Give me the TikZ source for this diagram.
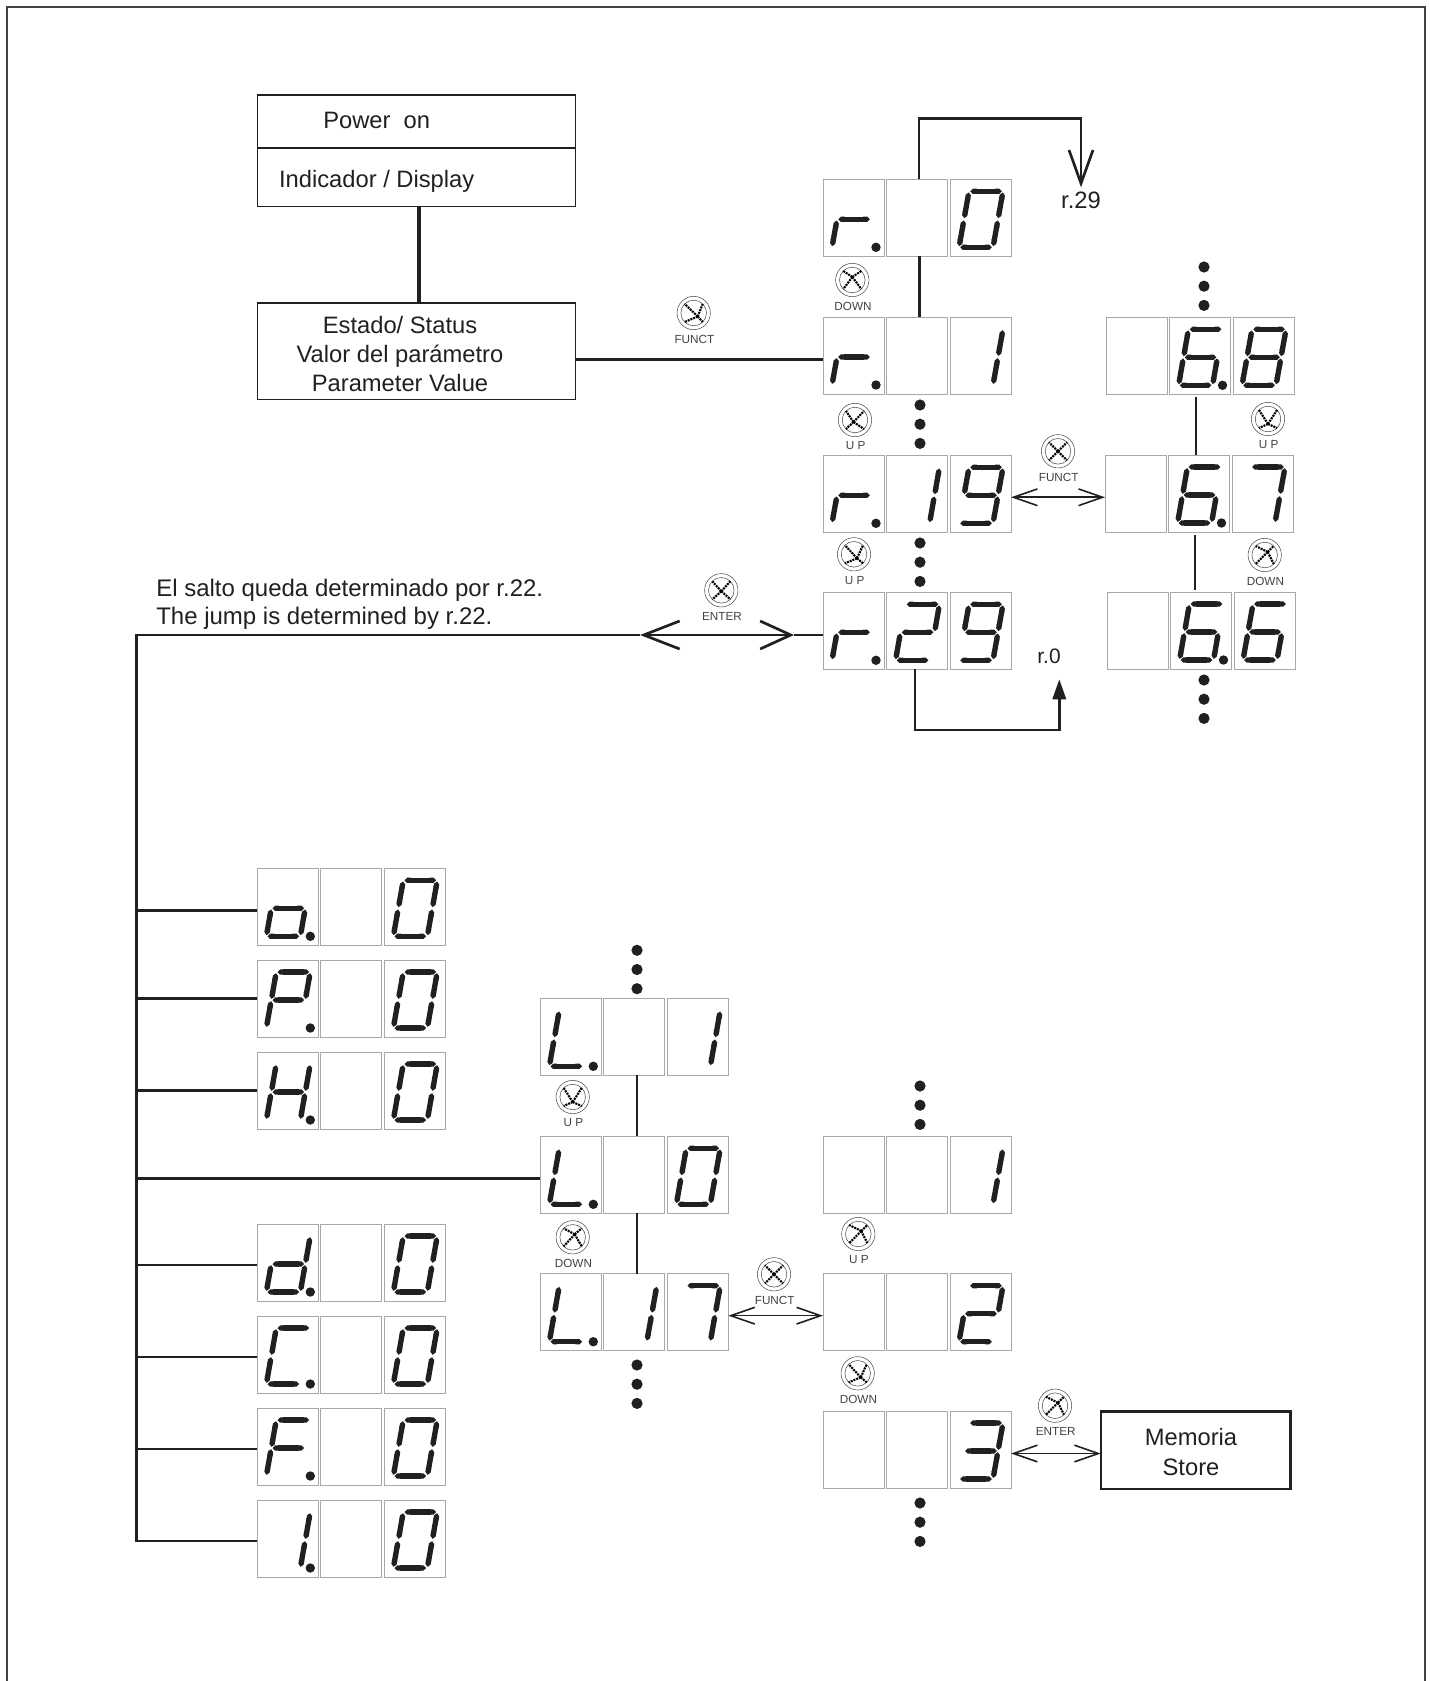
\documentclass[tikz,border=0pt]{standalone}
\usepackage{fontspec}
\setmainfont{Liberation Sans}
\usetikzlibrary{arrows.meta,calc}

\definecolor{ink}{HTML}{231F20}
\definecolor{cellgray}{HTML}{A8A8A8}

\def\sga{\draw[segm] (19,12) -- (53,12);}
\def\sgb{\draw[segm] (53,12) -- (48,40);}
\def\sgc{\draw[segm] (48,40) -- (43,68);}
\def\sgd{\draw[segm] (43,68) -- (9,68);}
\def\sge{\draw[segm] (9,68) -- (14,40);}
\def\sgf{\draw[segm] (14,40) -- (19,12);}
\def\sgg{\draw[segm] (14,40) -- (48,40);}
\def\sgp{\fill[ink] (53,68) circle (4.7);}

\newcommand{\cellsegs}[2]{
  \begin{scope}[shift={(#1.north west)}]
    \foreach \s in {#2} {\csname sg\s\endcsname}
  \end{scope}
}
\newcommand{\display}[6]{
  \node[cell,anchor=north west] (#1-1) at (#2,#3) {};
  \node[cell,anchor=north west] (#1-2) at (#2+63.5,#3) {};
  \node[cell,anchor=north west] (#1-3) at (#2+127,#3) {};
  \cellsegs{#1-1}{#4}
  \cellsegs{#1-2}{#5}
  \cellsegs{#1-3}{#6}
}
\newcommand{\keyicon}[6]{
  \node[keyring] (#1) at (#2,#3) {};
  \draw[keyinner] (#1.center) circle (12.8);
  \foreach \a/\b in {-9/-9,9/-9,-9/9,9/9}
    \draw[keyarm] ($(#1.center)+(#4,#5)$) -- ($(#1.center)+(\a,\b)$);
  \node[keylbl] (#1-l) at (#2+0.7,#3+26) {#6};
}
\newcommand{\threedots}[3]{
  \foreach \k in {0,1,2}
    \node[bigdot] (#1-\k) at (#2,#3+19.2*\k) {};
}

\begin{document}
\begin{tikzpicture}[
    x=0.75pt, y=-0.75pt,
    txt/.style={font=\fontsize{17.8}{22}\selectfont, text=ink, align=center, inner sep=0pt},
    cell/.style={draw=cellgray, line width=0.75pt, minimum width=45.75pt, minimum height=57.75pt, inner sep=0pt, outer sep=0pt},
    segm/.style={draw=ink, line width=4pt, shorten >=0.9pt, shorten <=0.9pt, {Triangle Cap[]}-{Triangle Cap[]}},
    keyring/.style={circle, draw=ink!80, line width=0.4pt, minimum size=25pt, inner sep=0pt},
    keyinner/.style={draw=ink!80, line width=0.4pt},
    keyarm/.style={draw=black, line width=1.6pt, dash pattern=on 1.5pt off 0.7pt},
    keylbl/.style={font=\fontsize{8.8}{10}\selectfont, text=ink!85, inner sep=0pt},
    bigdot/.style={circle, fill=ink, minimum size=8.4pt, inner sep=0pt},
    box/.style={draw=ink, line width=1.2pt, inner sep=0pt, outer sep=0pt},
    wire/.style={draw=ink, line width=2pt},
    dbl/.style={draw=ink, line width=1.2pt, {Straight Barb[length=18pt,width=12.5pt]}-{Straight Barb[length=18pt,width=12.5pt]}}
  ]
  \useasboundingbox (0,0) rectangle (1430,1681);
  \draw[ink!85, line width=1.1pt] (7,1690) -- (7,7) -- (1425,7) -- (1425,1690);

  \node[box, minimum width=238.5pt, minimum height=40pt, anchor=north west] (power) at (257.4,95) {};
  \node[box, minimum width=238.5pt, minimum height=44pt, anchor=north west] (indic) at (257.4,148) {};
  \node[box, minimum width=238.5pt, minimum height=72.7pt, anchor=north west] (state) at (257.4,302.7) {};
  \node[box, line width=2pt, minimum width=142pt, minimum height=58pt] (store) at (1195.5,1450.2) {};

  \node[txt] (powertxt) at (376.7,120) {Power\ \ on};
  \node[txt] (indictxt) at (376.7,181) {Indicador / Display};
  \node[txt] (statetxt) at (400,354) {Estado/ Status\\Valor del parámetro\\Parameter Value};
  \node[txt] (storetxt) at (1191,1452) {Memoria\\Store};
  \node[txt, font=\fontsize{18}{21}\selectfont, align=left, anchor=west] (jumptxt) at (156,604) {El salto queda determinado por r.22.\\The jump is determined by r.22.};
  \node[txt] (to29) at (1081,200) {r.29};
  \node[txt, font=\fontsize{15.7}{18}\selectfont] (to0) at (1049,656) {r.0};

  \display{r0}{823}{179.3}{e,g,p}{}{a,b,c,d,e,f}
  \display{r1}{823}{317}{e,g,p}{}{b,c}
  \display{r19}{823}{455.3}{e,g,p}{b,c}{a,b,c,d,f,g}
  \display{r29}{823}{592.3}{e,g,p}{a,b,g,e,d}{a,b,c,d,f,g}
  \display{v68}{1106}{317.3}{}{a,f,g,e,d,c,p}{a,b,c,d,e,f,g}
  \display{v67}{1105}{455}{}{a,f,g,e,d,c,p}{a,b,c}
  \display{v66}{1107}{592}{}{a,f,g,e,d,c,p}{a,f,g,e,d,c}
  \display{po}{257.3}{868.3}{g,c,d,e,p}{}{a,b,c,d,e,f}
  \display{pP}{257.3}{960}{a,b,f,g,e,p}{}{a,b,c,d,e,f}
  \display{pH}{257.3}{1052}{b,c,e,f,g,p}{}{a,b,c,d,e,f}
  \display{pd}{257.3}{1224}{b,c,d,e,g,p}{}{a,b,c,d,e,f}
  \display{pC}{257.3}{1316}{a,f,e,d,p}{}{a,b,c,d,e,f}
  \display{pF}{257.3}{1408}{a,f,g,e,p}{}{a,b,c,d,e,f}
  \display{pI}{257.3}{1500}{b,c,p}{}{a,b,c,d,e,f}
  \display{L1}{540.3}{998.3}{f,e,d,p}{}{b,c}
  \display{L0}{540.3}{1136.3}{f,e,d,p}{}{a,b,c,d,e,f}
  \display{L17}{540.3}{1273.7}{f,e,d,p}{b,c}{a,b,c}
  \display{m1}{823}{1136.3}{}{}{b,c}
  \display{m2}{823}{1273.7}{}{}{a,b,g,e,d}
  \display{m3}{823}{1411}{}{}{a,b,g,c,d}

  \threedots{da}{920}{405}
  \threedots{db}{920}{543}
  \threedots{dc}{1204}{267}
  \threedots{dd}{1204}{680}
  \threedots{de}{637}{950.3}
  \threedots{df}{637}{1365}
  \threedots{dg}{920}{1086}
  \threedots{dh}{920}{1503}

  \keyicon{kdowna}{852.3}{280}{0}{-3}{DOWN}
  \keyicon{kfuncta}{693.7}{313}{4}{3.5}{FUNCT}
  \keyicon{kupa}{855}{420}{-1.5}{2}{U P}
  \keyicon{kfunctb}{1058}{451.3}{0}{0}{FUNCT}
  \keyicon{kupb}{854}{554.3}{3}{4}{U P}
  \keyicon{kentera}{721.3}{590.3}{0}{1}{ENTER}
  \keyicon{kupc}{1268}{419}{0}{5}{U P}
  \keyicon{kdownb}{1264.7}{555}{3}{-3}{DOWN}
  \keyicon{kupd}{572.7}{1097}{0}{5}{U P}
  \keyicon{kdownc}{572.7}{1237.3}{2}{-3}{DOWN}
  \keyicon{kfunctc}{774}{1274.3}{0}{0}{FUNCT}
  \keyicon{kupe}{858.3}{1234}{3}{-3}{U P}
  \keyicon{kdownd}{857.7}{1373.3}{3}{4}{DOWN}
  \keyicon{kenterb}{1055}{1405.7}{3}{-3}{ENTER}

  \draw[draw=ink, line width=3pt] ([xshift=2.2pt]indic.south) coordinate (a) -- (a |- state.north);
  \draw[wire] ([yshift=-6pt]state.east) coordinate (a) -- (a -| r1-1.west);

  \draw[wire] ([xshift=2pt]r0-2.south) -- ([xshift=2pt]r1-2.north);
  \draw[wire, -{Straight Barb[length=25pt,width=18pt]}] ([xshift=1.5pt]r0-2.north) |- (1081,118.3) -- ([yshift=3pt]to29.north);
  \draw[wire, -{Triangle[length=15pt,width=10pt]}] ([xshift=-1.5pt]r29-2.south) |- (1059.3,730) -- (1059.3,679.3);

  \draw[wire] ([xshift=-3pt,yshift=-2.2pt]v68-2.south) coordinate (a) -- (a |- v67-2.north);
  \draw[wire] ([xshift=-3pt,yshift=-2.2pt]v67-2.south) coordinate (a) -- ([yshift=1.5pt]a |- v66-2.north);
  \draw[wire] ([xshift=2pt]L1-2.south) -- ([xshift=2pt]L0-2.north);
  \draw[wire] ([xshift=2pt]L0-2.south) -- ([xshift=2pt]L17-2.north);

  \draw[dbl] ([yshift=-2.6pt]r19-3.east) coordinate (a) -- (a -| v67-1.west);
  \draw[dbl] ([yshift=-2.6pt]L17-3.east) coordinate (a) -- (a -| m2-1.west);
  \draw[dbl] ([yshift=-3pt]m3-3.east) coordinate (a) -- (a -| store.west);

  \coordinate (jump) at (136.7,635);
  \coordinate (entl) at (640,635);
  \coordinate (entr) at (794,635);
  \coordinate (trunkend) at (136.7,1541.5);
  \draw[wire] (trunkend) -- (jump) -- (entl);
  \draw[wire, {Straight Barb[length=27pt,width=21pt]}-{Straight Barb[length=23pt,width=21pt]}] (entl) -- (entr);
  \draw[wire] (entr) -- (entr -| r29-1.west);

  \foreach \n/\d in {po/3.5,pP/0,pH/0,L0/3.5,pd/2.5,pC/2.5,pF/2.5,pI/2.5}
    \draw[wire] ($(\n-1.west)+(0,\d)$) coordinate (tap) -- (tap -| jump);
\end{tikzpicture}
\end{document}
